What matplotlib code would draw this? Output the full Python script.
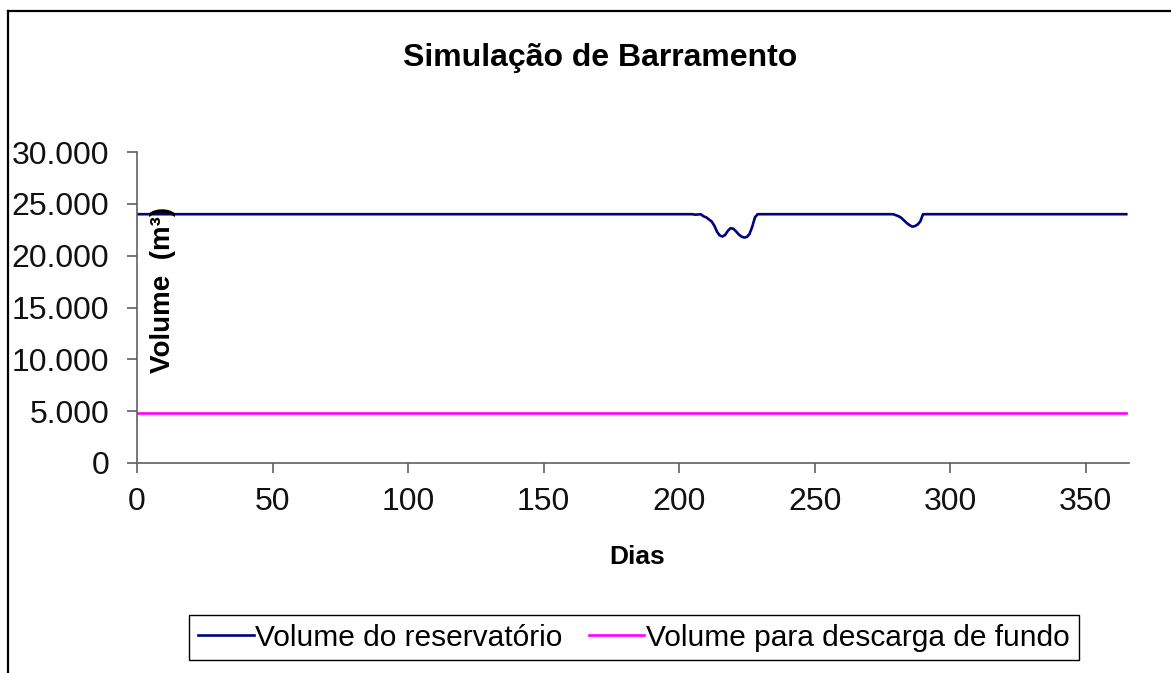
#!/usr/bin/env python3
"""Reservoir simulation: daily volume vs bottom-discharge volume."""

import matplotlib

matplotlib.use("Agg")
import matplotlib.pyplot as plt
import numpy as np
from matplotlib.lines import Line2D
from matplotlib.ticker import FuncFormatter, MultipleLocator

# daily series, days 0..365
N_DAYS = 366
BASE_VOLUME = 24000
DISCHARGE_VOLUME = 4800

# days where the reservoir drops below its normal level
dip_days = [206, 207, 208, 209, 210, 211, 212, 213, 214, 215, 216, 217, 218, 219,
            220, 221, 222, 223, 224, 225, 226, 227, 228,
            280, 281, 282, 283, 284, 285, 286, 287, 288, 289]
dip_values = [23950, 23980, 24000, 23800, 23700, 23500, 23300, 22900, 22300, 21950,
              21850, 22000, 22400, 22650, 22600, 22350, 22050, 21850, 21750, 21800,
              22100, 22800, 23700,
              23900, 23800, 23650, 23400, 23150, 22950, 22800, 22850, 23000, 23300]

days = np.arange(N_DAYS)
reservoir = np.full(N_DAYS, BASE_VOLUME, dtype=float)
reservoir[dip_days] = dip_values
discharge = np.full(N_DAYS, DISCHARGE_VOLUME, dtype=float)

FONT = ["Liberation Sans", "Arial", "DejaVu Sans"]
AXIS_GRAY = "#606060"


def thousands(v, _pos):
    return f"{int(v):,}".replace(",", ".")


def main() -> None:
    plt.rcParams["font.family"] = FONT
    W, H = 1171, 673
    fig = plt.figure(figsize=(W / 100, H / 100), dpi=100)
    ax = fig.add_axes([137 / W, 1 - 463 / H, (1129 - 137) / W, (463 - 152) / H])

    ax.plot(days, reservoir, color="#000080", linewidth=1.9, label="Volume do reservatório")
    ax.plot(days, discharge, color="#FF00FF", linewidth=1.9, label="Volume para descarga de fundo")

    ax.set_xlim(0, 366)
    ax.set_ylim(0, 30000)
    ax.xaxis.set_major_locator(MultipleLocator(50))
    ax.yaxis.set_major_locator(MultipleLocator(5000))
    ax.yaxis.set_major_formatter(FuncFormatter(thousands))

    for side in ("top", "right"):
        ax.spines[side].set_visible(False)
    for side in ("left", "bottom"):
        ax.spines[side].set_color(AXIS_GRAY)
        ax.spines[side].set_linewidth(1.2)
    ax.tick_params(axis="both", direction="out", length=7, width=1.2, color=AXIS_GRAY,
                   labelsize=23, labelcolor="#111111")
    ax.tick_params(axis="x", pad=10)
    ax.tick_params(axis="y", pad=13)

    fig.text(600 / W, 1 - 58 / H, "Simulação de Barramento", ha="center", va="center",
             fontsize=23, fontweight="bold")
    fig.text(637 / W, 1 - 557 / H, "Dias", ha="center", va="center",
             fontsize=19, fontweight="bold")
    fig.text(163 / W, 1 - 290 / H, "Volume  (m³)", ha="center", va="center",
             rotation=90, fontsize=20, fontweight="bold")

    leg = fig.legend(loc="center", bbox_to_anchor=(634 / W, 1 - 637.5 / H), ncol=2,
                     prop={"family": FONT, "size": 21.5}, frameon=True, fancybox=False,
                     edgecolor="black", framealpha=1, handlelength=1.85, handletextpad=0.05,
                     columnspacing=0.9, borderpad=0.3, borderaxespad=0)
    leg.get_frame().set_linewidth(1.0)

    # outer chart-area border (runs off the right and bottom edges)
    fig.add_artist(Line2D([8 / W, 8 / W], [0, 1 - 11 / H], color="black", linewidth=1.6,
                          transform=fig.transFigure))
    fig.add_artist(Line2D([8 / W, 1], [1 - 11 / H, 1 - 11 / H], color="black", linewidth=1.6,
                          transform=fig.transFigure))

    fig.savefig("out.png", dpi=100)


if __name__ == "__main__":
    main()
